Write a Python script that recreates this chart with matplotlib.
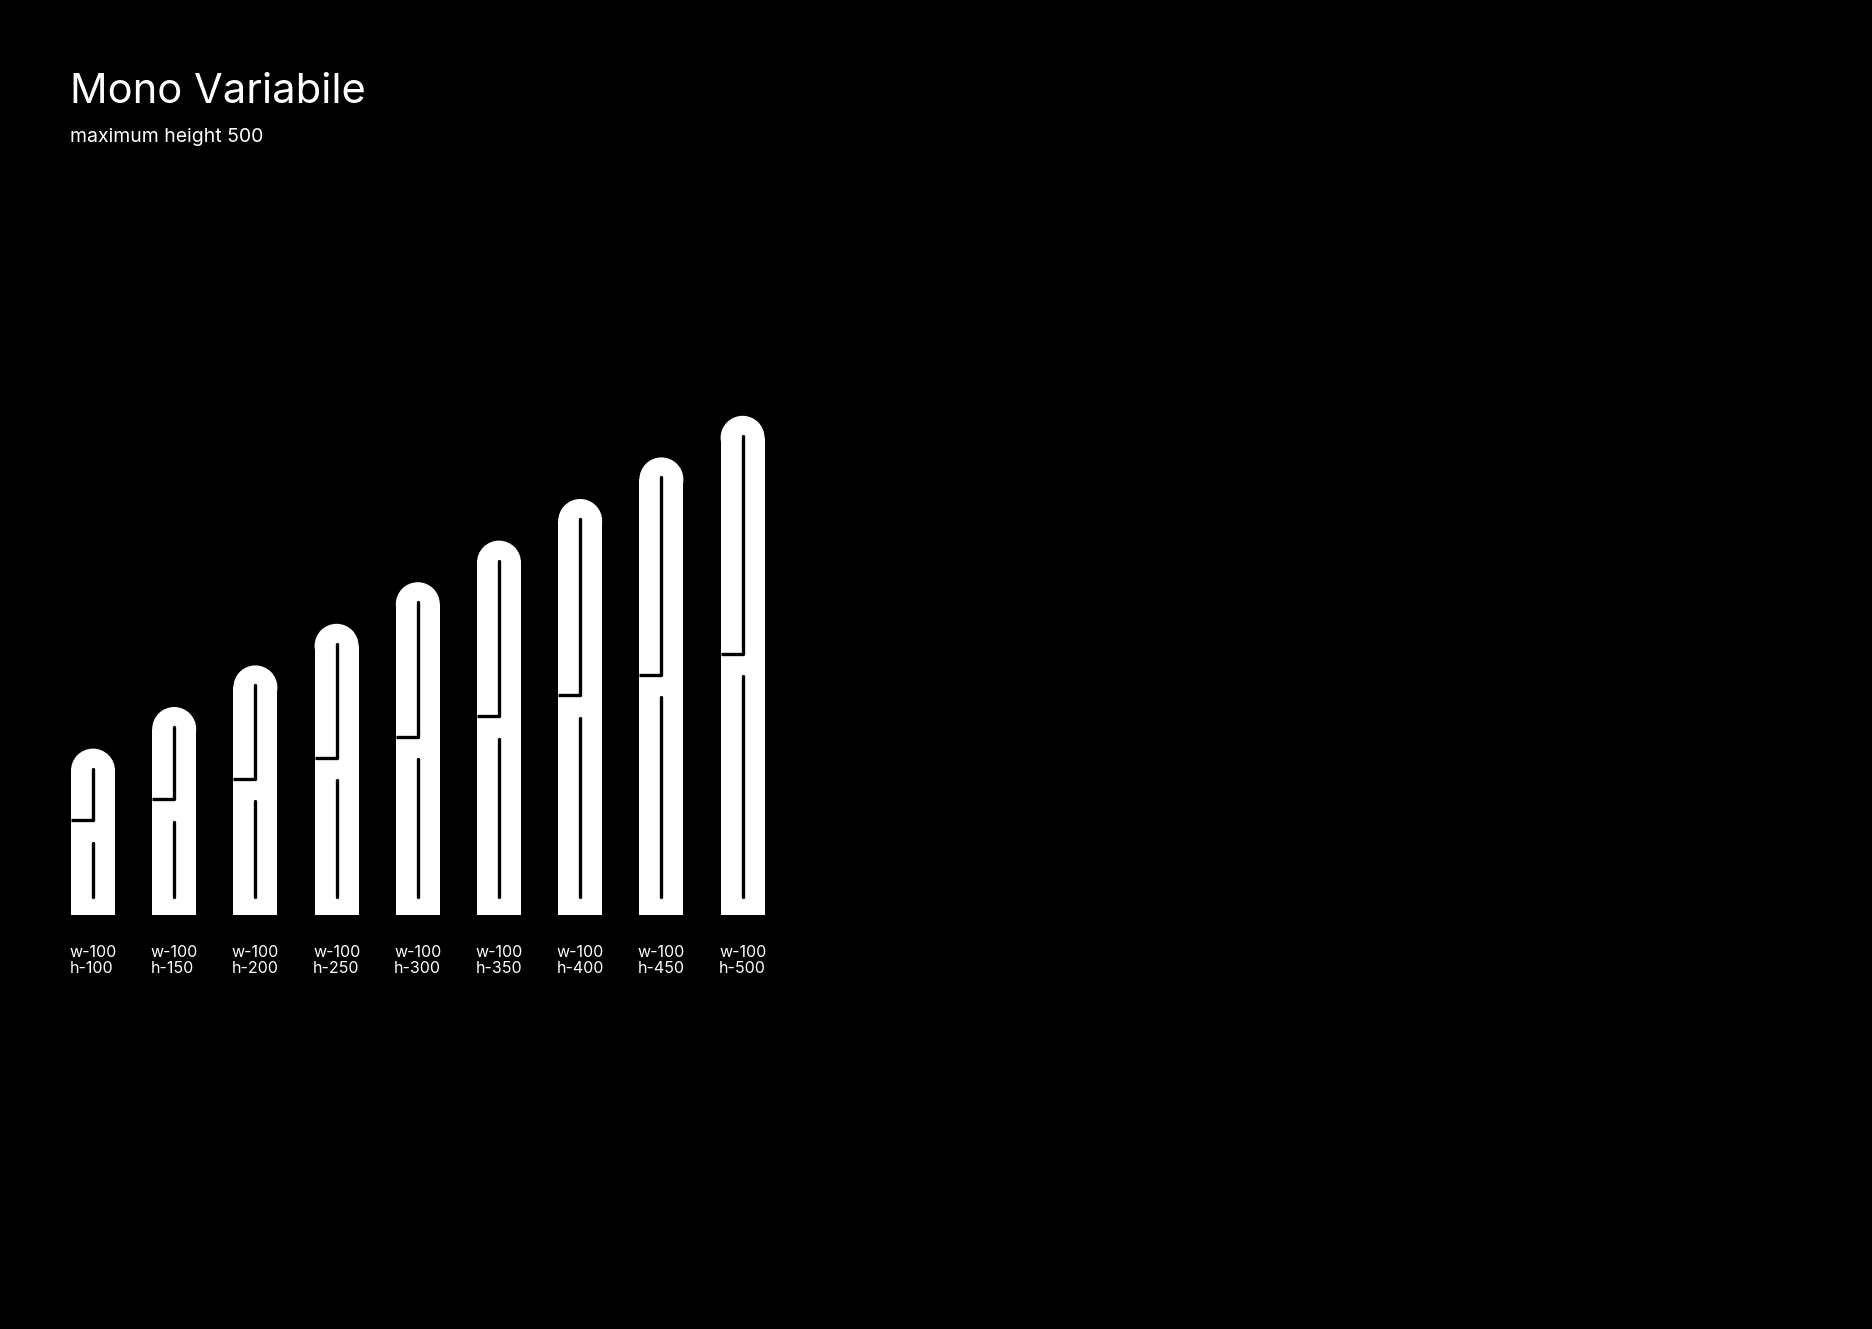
import numpy as np
import matplotlib
matplotlib.use('Agg')
import matplotlib.pyplot as plt
from matplotlib.patches import Ellipse

plt.rcParams['font.family'] = ['Inter', 'DejaVu Sans']

# glyph variants: width and height axis values
widths = [100] * 9
heights = [100, 150, 200, 250, 300, 350, 400, 450, 500]

W, H, DPI = 1872, 1329, 100
px_x = 81.2      # pixels per slot
px_y = 0.832     # pixels per height unit
x0_px, base_px = 93, 414

fig = plt.figure(figsize=(W / DPI, H / DPI), dpi=DPI, facecolor='black')
ax = fig.add_axes([0, 0, 1, 1])
ax.set_facecolor('black')
ax.set_xlim(-x0_px / px_x, (W - x0_px) / px_x)
ax.set_ylim(-base_px / px_y, (H - base_px) / px_y)
ax.axis('off')

bw = 44 / px_x                 # bar width in x units
r = 22 / px_y                  # top radius in y units
x = np.arange(len(heights))
total = np.array(heights) + 100

# stems + rounded tops
ax.bar(x, total - r, width=bw, bottom=0, color='white', linewidth=0)
for xi, t in zip(x, total):
    ax.add_patch(Ellipse((xi, t - r), bw, 2 * r, color='white', lw=0))

# black slits of the "a"
for xi, t in zip(x, total):
    cross = t / 2 + 14
    ax.plot([xi, xi], [t - 24, cross], color='black', lw=2.4, solid_capstyle='round')
    ax.plot([xi - bw / 2, xi], [cross, cross], color='black', lw=2.4, solid_capstyle='butt')
    ax.plot([xi, xi], [cross - 27, 22], color='black', lw=2.4, solid_capstyle='round')

# labels under each glyph
for xi, w, h in zip(x, widths, heights):
    ax.text(xi - bw / 2 - 0.02, -36, f'w-{w}\nh-{h}', color='white', fontsize=11.5,
            ha='left', va='top', linespacing=1.1)

fig.text(70 / W, 1 - 92 / H, 'Mono Variabile', color='white', fontsize=30, va='center')
fig.text(70 / W, 1 - 137 / H, 'maximum height 500', color='white', fontsize=14, va='center')

fig.savefig('out.png', dpi=DPI, facecolor='black')
